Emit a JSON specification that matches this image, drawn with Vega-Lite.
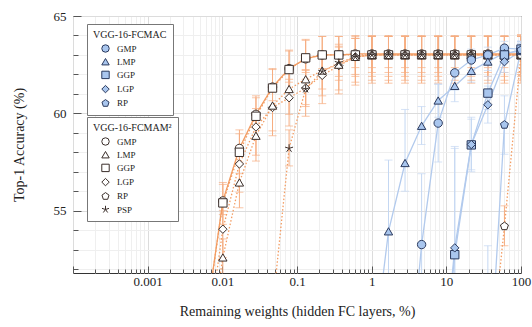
{
  "$schema": "https://vega.github.io/schema/vega-lite/v6.json",
  "width": 448,
  "height": 257,
  "autosize": {"type": "none"},
  "padding": {"left": 73, "top": 16, "right": 11, "bottom": 54},
  "background": "white",
  "config": {
    "font": "Liberation Serif",
    "view": {"stroke": "#333333", "strokeWidth": 1},
    "axis": {
      "labelFont": "Liberation Serif",
      "titleFont": "Liberation Serif",
      "labelFontSize": 13,
      "titleFontSize": 14,
      "titleFontWeight": "normal",
      "labelColor": "#222222",
      "titleColor": "#222222",
      "domain": false,
      "tickColor": "#555555",
      "labelOverlap": false,
      "labelFlush": false
    },
    "legend": {
      "titleFont": "Liberation Serif",
      "labelFont": "Liberation Serif",
      "titleFontSize": 10,
      "titleFontWeight": "normal",
      "labelFontSize": 9,
      "titleColor": "#222222",
      "labelColor": "#222222",
      "strokeColor": "#777777",
      "fillColor": "white",
      "padding": 6,
      "rowPadding": 1.2,
      "titlePadding": 4,
      "symbolOffset": 8,
      "labelOffset": 7,
      "symbolSize": 55,
      "symbolStrokeWidth": 1
    }
  },
  "datasets": {
    "d": [
      {"g": "FCMAM2", "m": "GMP", "x": 100, "y": 63.05, "lo": 62.35, "hi": 64.0},
      {"g": "FCMAM2", "m": "GMP", "x": 60, "y": 63.05, "lo": 62.35, "hi": 64.0},
      {"g": "FCMAM2", "m": "GMP", "x": 36, "y": 63.05, "lo": 62.35, "hi": 64.0},
      {"g": "FCMAM2", "m": "GMP", "x": 21.6, "y": 63.05, "lo": 62.35, "hi": 64.0},
      {"g": "FCMAM2", "m": "GMP", "x": 12.96, "y": 63.05, "lo": 62.35, "hi": 64.0},
      {"g": "FCMAM2", "m": "GMP", "x": 7.776, "y": 63.05, "lo": 62.35, "hi": 64.0},
      {"g": "FCMAM2", "m": "GMP", "x": 4.666, "y": 63.05, "lo": 62.35, "hi": 64.0},
      {"g": "FCMAM2", "m": "GMP", "x": 2.799, "y": 63.05, "lo": 62.35, "hi": 64.0},
      {"g": "FCMAM2", "m": "GMP", "x": 1.68, "y": 63.05, "lo": 62.35, "hi": 64.0},
      {"g": "FCMAM2", "m": "GMP", "x": 1.008, "y": 63.05, "lo": 62.35, "hi": 64.0},
      {"g": "FCMAM2", "m": "GMP", "x": 0.6047, "y": 63.05, "lo": 62.35, "hi": 64.0},
      {"g": "FCMAM2", "m": "GMP", "x": 0.3628, "y": 63.0, "lo": 62.3, "hi": 63.95},
      {"g": "FCMAM2", "m": "GMP", "x": 0.2177, "y": 63.0, "lo": 62.3, "hi": 63.95},
      {"g": "FCMAM2", "m": "GMP", "x": 0.1306, "y": 62.8, "lo": 62.1, "hi": 63.75},
      {"g": "FCMAM2", "m": "GMP", "x": 0.07836, "y": 62.3, "lo": 61.6, "hi": 63.25},
      {"g": "FCMAM2", "m": "GMP", "x": 0.04702, "y": 61.35, "lo": 60.65, "hi": 62.3},
      {"g": "FCMAM2", "m": "GMP", "x": 0.02821, "y": 59.95, "lo": 59.25, "hi": 60.9},
      {"g": "FCMAM2", "m": "GMP", "x": 0.01693, "y": 58.2, "lo": 57.5, "hi": 59.15},
      {"g": "FCMAM2", "m": "GMP", "x": 0.01016, "y": 55.5, "lo": 54.8, "hi": 56.45},
      {"g": "FCMAM2", "m": "GMP", "x": 0.006094, "y": 49.5, "lo": 48.8, "hi": 50.45},

      {"g": "FCMAM2", "m": "GGP", "x": 100, "y": 63.0, "lo": 61.9, "hi": 63.95},
      {"g": "FCMAM2", "m": "GGP", "x": 60, "y": 63.0, "lo": 61.9, "hi": 63.95},
      {"g": "FCMAM2", "m": "GGP", "x": 36, "y": 63.0, "lo": 61.9, "hi": 63.95},
      {"g": "FCMAM2", "m": "GGP", "x": 21.6, "y": 63.0, "lo": 61.9, "hi": 63.95},
      {"g": "FCMAM2", "m": "GGP", "x": 12.96, "y": 63.0, "lo": 61.9, "hi": 63.95},
      {"g": "FCMAM2", "m": "GGP", "x": 7.776, "y": 63.0, "lo": 61.9, "hi": 63.95},
      {"g": "FCMAM2", "m": "GGP", "x": 4.666, "y": 63.0, "lo": 61.9, "hi": 63.95},
      {"g": "FCMAM2", "m": "GGP", "x": 2.799, "y": 63.0, "lo": 61.9, "hi": 63.95},
      {"g": "FCMAM2", "m": "GGP", "x": 1.68, "y": 63.0, "lo": 61.9, "hi": 63.95},
      {"g": "FCMAM2", "m": "GGP", "x": 1.008, "y": 63.0, "lo": 61.9, "hi": 63.95},
      {"g": "FCMAM2", "m": "GGP", "x": 0.6047, "y": 63.0, "lo": 61.9, "hi": 63.95},
      {"g": "FCMAM2", "m": "GGP", "x": 0.3628, "y": 63.0, "lo": 61.9, "hi": 63.95},
      {"g": "FCMAM2", "m": "GGP", "x": 0.2177, "y": 63.0, "lo": 61.9, "hi": 63.95},
      {"g": "FCMAM2", "m": "GGP", "x": 0.1306, "y": 62.85, "lo": 61.75, "hi": 63.8},
      {"g": "FCMAM2", "m": "GGP", "x": 0.07836, "y": 62.25, "lo": 61.15, "hi": 63.2},
      {"g": "FCMAM2", "m": "GGP", "x": 0.04702, "y": 61.3, "lo": 60.2, "hi": 62.25},
      {"g": "FCMAM2", "m": "GGP", "x": 0.02821, "y": 59.85, "lo": 58.75, "hi": 60.8},
      {"g": "FCMAM2", "m": "GGP", "x": 0.01693, "y": 58.0, "lo": 56.9, "hi": 58.95},
      {"g": "FCMAM2", "m": "GGP", "x": 0.01016, "y": 55.4, "lo": 54.3, "hi": 56.35},
      {"g": "FCMAM2", "m": "GGP", "x": 0.006094, "y": 49.5, "lo": 48.4, "hi": 50.45},

      {"g": "FCMAM2", "m": "LGP", "x": 100, "y": 63.0, "lo": 61.55, "hi": 63.95},
      {"g": "FCMAM2", "m": "LGP", "x": 60, "y": 63.0, "lo": 61.55, "hi": 63.95},
      {"g": "FCMAM2", "m": "LGP", "x": 36, "y": 63.0, "lo": 61.55, "hi": 63.95},
      {"g": "FCMAM2", "m": "LGP", "x": 21.6, "y": 63.0, "lo": 61.55, "hi": 63.95},
      {"g": "FCMAM2", "m": "LGP", "x": 12.96, "y": 63.0, "lo": 61.55, "hi": 63.95},
      {"g": "FCMAM2", "m": "LGP", "x": 7.776, "y": 63.0, "lo": 61.55, "hi": 63.95},
      {"g": "FCMAM2", "m": "LGP", "x": 4.666, "y": 63.0, "lo": 61.55, "hi": 63.95},
      {"g": "FCMAM2", "m": "LGP", "x": 2.799, "y": 63.0, "lo": 61.55, "hi": 63.95},
      {"g": "FCMAM2", "m": "LGP", "x": 1.68, "y": 63.0, "lo": 61.55, "hi": 63.95},
      {"g": "FCMAM2", "m": "LGP", "x": 1.008, "y": 63.0, "lo": 61.55, "hi": 63.95},
      {"g": "FCMAM2", "m": "LGP", "x": 0.6047, "y": 62.9, "lo": 61.45, "hi": 63.85},
      {"g": "FCMAM2", "m": "LGP", "x": 0.3628, "y": 62.45, "lo": 61.0, "hi": 63.4},
      {"g": "FCMAM2", "m": "LGP", "x": 0.2177, "y": 61.95, "lo": 60.5, "hi": 62.9},
      {"g": "FCMAM2", "m": "LGP", "x": 0.1306, "y": 61.3, "lo": 59.85, "hi": 62.25},
      {"g": "FCMAM2", "m": "LGP", "x": 0.07836, "y": 60.8, "lo": 59.35, "hi": 61.75},
      {"g": "FCMAM2", "m": "LGP", "x": 0.04702, "y": 60.3, "lo": 58.85, "hi": 61.25},
      {"g": "FCMAM2", "m": "LGP", "x": 0.02821, "y": 59.3, "lo": 57.85, "hi": 60.25},
      {"g": "FCMAM2", "m": "LGP", "x": 0.01693, "y": 57.4, "lo": 55.95, "hi": 58.35},
      {"g": "FCMAM2", "m": "LGP", "x": 0.01016, "y": 54.05, "lo": 52.6, "hi": 55.0},
      {"g": "FCMAM2", "m": "LGP", "x": 0.006094, "y": 48.0, "lo": 46.55, "hi": 48.95},

      {"g": "FCMAM2", "m": "LMP", "x": 100, "y": 63.0, "lo": 61.7, "hi": 63.95},
      {"g": "FCMAM2", "m": "LMP", "x": 60, "y": 63.0, "lo": 61.7, "hi": 63.95},
      {"g": "FCMAM2", "m": "LMP", "x": 36, "y": 63.0, "lo": 61.7, "hi": 63.95},
      {"g": "FCMAM2", "m": "LMP", "x": 21.6, "y": 63.0, "lo": 61.7, "hi": 63.95},
      {"g": "FCMAM2", "m": "LMP", "x": 12.96, "y": 63.0, "lo": 61.7, "hi": 63.95},
      {"g": "FCMAM2", "m": "LMP", "x": 7.776, "y": 63.0, "lo": 61.7, "hi": 63.95},
      {"g": "FCMAM2", "m": "LMP", "x": 4.666, "y": 63.0, "lo": 61.7, "hi": 63.95},
      {"g": "FCMAM2", "m": "LMP", "x": 2.799, "y": 63.0, "lo": 61.7, "hi": 63.95},
      {"g": "FCMAM2", "m": "LMP", "x": 1.68, "y": 63.0, "lo": 61.7, "hi": 63.95},
      {"g": "FCMAM2", "m": "LMP", "x": 1.008, "y": 63.0, "lo": 61.7, "hi": 63.95},
      {"g": "FCMAM2", "m": "LMP", "x": 0.6047, "y": 62.9, "lo": 61.6, "hi": 63.85},
      {"g": "FCMAM2", "m": "LMP", "x": 0.3628, "y": 62.5, "lo": 61.2, "hi": 63.45},
      {"g": "FCMAM2", "m": "LMP", "x": 0.2177, "y": 62.2, "lo": 60.9, "hi": 63.15},
      {"g": "FCMAM2", "m": "LMP", "x": 0.1306, "y": 61.75, "lo": 60.45, "hi": 62.7},
      {"g": "FCMAM2", "m": "LMP", "x": 0.07836, "y": 61.25, "lo": 59.95, "hi": 62.2},
      {"g": "FCMAM2", "m": "LMP", "x": 0.04702, "y": 60.4, "lo": 59.1, "hi": 61.35},
      {"g": "FCMAM2", "m": "LMP", "x": 0.02821, "y": 58.85, "lo": 57.55, "hi": 59.8},
      {"g": "FCMAM2", "m": "LMP", "x": 0.01693, "y": 56.45, "lo": 55.15, "hi": 57.4},
      {"g": "FCMAM2", "m": "LMP", "x": 0.01016, "y": 52.6, "lo": 51.3, "hi": 53.55},
      {"g": "FCMAM2", "m": "LMP", "x": 0.006094, "y": 47.0, "lo": 45.7, "hi": 47.95},

      {"g": "FCMAM2", "m": "PSP", "x": 100, "y": 63.0, "lo": 62.1, "hi": 63.95},
      {"g": "FCMAM2", "m": "PSP", "x": 60, "y": 63.0, "lo": 62.1, "hi": 63.95},
      {"g": "FCMAM2", "m": "PSP", "x": 36, "y": 63.0, "lo": 62.1, "hi": 63.95},
      {"g": "FCMAM2", "m": "PSP", "x": 21.6, "y": 63.0, "lo": 62.1, "hi": 63.95},
      {"g": "FCMAM2", "m": "PSP", "x": 12.96, "y": 63.0, "lo": 62.1, "hi": 63.95},
      {"g": "FCMAM2", "m": "PSP", "x": 7.776, "y": 63.0, "lo": 62.1, "hi": 63.95},
      {"g": "FCMAM2", "m": "PSP", "x": 4.666, "y": 63.0, "lo": 62.1, "hi": 63.95},
      {"g": "FCMAM2", "m": "PSP", "x": 2.799, "y": 63.0, "lo": 62.1, "hi": 63.95},
      {"g": "FCMAM2", "m": "PSP", "x": 1.68, "y": 63.0, "lo": 62.1, "hi": 63.95},
      {"g": "FCMAM2", "m": "PSP", "x": 1.008, "y": 63.0, "lo": 62.1, "hi": 63.95},
      {"g": "FCMAM2", "m": "PSP", "x": 0.6047, "y": 62.9, "lo": 62.0, "hi": 63.85},
      {"g": "FCMAM2", "m": "PSP", "x": 0.3628, "y": 62.6, "lo": 61.7, "hi": 63.55},
      {"g": "FCMAM2", "m": "PSP", "x": 0.2177, "y": 62.15, "lo": 61.25, "hi": 63.1},
      {"g": "FCMAM2", "m": "PSP", "x": 0.1306, "y": 61.25, "lo": 60.35, "hi": 62.2},
      {"g": "FCMAM2", "m": "PSP", "x": 0.07836, "y": 58.2, "lo": 57.3, "hi": 59.15},
      {"g": "FCMAM2", "m": "PSP", "x": 0.04702, "y": 50.0, "lo": 49.1, "hi": 50.95},

      {"g": "FCMAM2", "m": "RP", "x": 100, "y": 63.0, "lo": 62.0, "hi": 64.05},
      {"g": "FCMAM2", "m": "RP", "x": 60, "y": 54.2, "lo": 53.2, "hi": 55.25},
      {"g": "FCMAM2", "m": "RP", "x": 36, "y": 46.0, "lo": 45.0, "hi": 47.05},

      {"g": "FCMAC", "m": "GMP", "x": 100, "y": 63.3, "lo": 62.9, "hi": 63.7},
      {"g": "FCMAC", "m": "GMP", "x": 60, "y": 63.35, "lo": 63.0, "hi": 63.7},
      {"g": "FCMAC", "m": "GMP", "x": 36, "y": 63.0, "lo": 62.6, "hi": 63.4},
      {"g": "FCMAC", "m": "GMP", "x": 21.6, "y": 62.74, "lo": 62.2, "hi": 63.3},
      {"g": "FCMAC", "m": "GMP", "x": 12.96, "y": 62.08, "lo": 61.2, "hi": 63.0},
      {"g": "FCMAC", "m": "GMP", "x": 7.776, "y": 59.5, "lo": 57.5, "hi": 61.5},
      {"g": "FCMAC", "m": "GMP", "x": 4.666, "y": 53.26, "lo": 49.6, "hi": 56.9},
      {"g": "FCMAC", "m": "GMP", "x": 2.799, "y": 44.0, "lo": 40.0, "hi": 48.0},

      {"g": "FCMAC", "m": "LMP", "x": 100, "y": 63.2, "lo": 62.8, "hi": 63.6},
      {"g": "FCMAC", "m": "LMP", "x": 60, "y": 63.1, "lo": 62.7, "hi": 63.5},
      {"g": "FCMAC", "m": "LMP", "x": 36, "y": 62.66, "lo": 62.2, "hi": 63.1},
      {"g": "FCMAC", "m": "LMP", "x": 21.6, "y": 62.18, "lo": 61.6, "hi": 62.8},
      {"g": "FCMAC", "m": "LMP", "x": 12.96, "y": 61.41, "lo": 60.6, "hi": 62.2},
      {"g": "FCMAC", "m": "LMP", "x": 7.776, "y": 60.66, "lo": 59.8, "hi": 61.5},
      {"g": "FCMAC", "m": "LMP", "x": 4.666, "y": 59.36, "lo": 58.4, "hi": 60.35},
      {"g": "FCMAC", "m": "LMP", "x": 2.799, "y": 57.45, "lo": 56.0, "hi": 60.2},
      {"g": "FCMAC", "m": "LMP", "x": 1.68, "y": 53.94, "lo": 50.2, "hi": 57.6},
      {"g": "FCMAC", "m": "LMP", "x": 1.008, "y": 47.0, "lo": 44.0, "hi": 50.0},

      {"g": "FCMAC", "m": "GGP", "x": 100, "y": 63.3, "lo": 62.9, "hi": 63.7},
      {"g": "FCMAC", "m": "GGP", "x": 60, "y": 63.0, "lo": 62.6, "hi": 63.4},
      {"g": "FCMAC", "m": "GGP", "x": 36, "y": 61.04, "lo": 60.2, "hi": 61.9},
      {"g": "FCMAC", "m": "GGP", "x": 21.6, "y": 58.38, "lo": 57.0, "hi": 59.8},
      {"g": "FCMAC", "m": "GGP", "x": 12.96, "y": 52.74, "lo": 47.0, "hi": 58.3},
      {"g": "FCMAC", "m": "GGP", "x": 7.776, "y": 44.0, "lo": 40.0, "hi": 48.0},

      {"g": "FCMAC", "m": "LGP", "x": 100, "y": 63.2, "lo": 62.8, "hi": 63.6},
      {"g": "FCMAC", "m": "LGP", "x": 60, "y": 62.65, "lo": 62.1, "hi": 63.2},
      {"g": "FCMAC", "m": "LGP", "x": 36, "y": 60.44, "lo": 59.5, "hi": 61.4},
      {"g": "FCMAC", "m": "LGP", "x": 21.6, "y": 58.4, "lo": 57.1, "hi": 59.7},
      {"g": "FCMAC", "m": "LGP", "x": 12.96, "y": 53.09, "lo": 48.0, "hi": 58.2},
      {"g": "FCMAC", "m": "LGP", "x": 7.776, "y": 44.0, "lo": 40.0, "hi": 48.0},

      {"g": "FCMAC", "m": "RP", "x": 100, "y": 63.25, "lo": 62.8, "hi": 63.7},
      {"g": "FCMAC", "m": "RP", "x": 60, "y": 59.41, "lo": 57.9, "hi": 60.9},
      {"g": "FCMAC", "m": "RP", "x": 36, "y": 45.0, "lo": 41.0, "hi": 53.2}
    ]
  },
  "data": {"name": "d"},
  "layer": [
    {
      "mark": {"type": "rule", "strokeWidth": 1, "clip": true},
      "encoding": {
        "x": {"field": "x", "type": "quantitative", "scale": {"type": "log", "domain": [0.0001, 100], "nice": false},
          "axis": {"title": "Remaining weights (hidden FC layers, %)", "values": [0.0001,0.0002,0.0003,0.0004,0.0005,0.0006,0.0007,0.0008,0.0009,0.001,0.002,0.003,0.004,0.005,0.006,0.007,0.008,0.009,0.01,0.02,0.03,0.04,0.05,0.06,0.07,0.08,0.09,0.1,0.2,0.3,0.4,0.5,0.6,0.7,0.8,0.9,1,2,3,4,5,6,7,8,9,10,20,30,40,50,60,70,80,90,100], "format": "~g", "labelOverlap": false, "labelExpr": "(abs(log(datum.value)/LN10 - round(log(datum.value)/LN10)) < 0.001 && datum.value > 0.0005) ? datum.label : ''", "grid": true, "gridColor": {"condition": {"test": "abs(log(datum.value)/LN10 - round(log(datum.value)/LN10)) < 0.001", "value": "#dcdcdc"}, "value": "#efefef"}, "tickSize": {"condition": {"test": "abs(log(datum.value)/LN10 - round(log(datum.value)/LN10)) < 0.001", "value": -7}, "value": -4}, "labelPadding": 9, "titlePadding": 13}},
        "y": {"field": "lo", "type": "quantitative", "scale": {"domain": [51.8, 65], "nice": false, "zero": false},
          "axis": {"title": "Top-1 Accuracy (%)", "values": [52,53,54,55,56,57,58,59,60,61,62,63,64,65], "labelOverlap": false, "labelExpr": "(datum.value == 55 || datum.value == 60 || datum.value == 65) ? datum.label : ''", "grid": true, "gridColor": {"condition": {"test": "datum.value == 55 || datum.value == 60 || datum.value == 65", "value": "#dcdcdc"}, "value": "#efefef"}, "tickSize": {"condition": {"test": "datum.value == 55 || datum.value == 60 || datum.value == 65", "value": -8}, "value": -5}, "labelPadding": 15, "titlePadding": 27}},
        "y2": {"field": "hi"},
        "color": {"field": "g", "type": "nominal", "scale": {"domain": ["FCMAC", "FCMAM2"], "range": ["#c4d7f2", "#f6ad80"]}, "legend": null}
      }
    },
    {
      "mark": {"type": "tick", "orient": "horizontal", "size": 8, "thickness": 1, "clip": true},
      "encoding": {
        "x": {"field": "x", "type": "quantitative",
          "axis": {"title": "Remaining weights (hidden FC layers, %)", "values": [0.0001,0.0002,0.0003,0.0004,0.0005,0.0006,0.0007,0.0008,0.0009,0.001,0.002,0.003,0.004,0.005,0.006,0.007,0.008,0.009,0.01,0.02,0.03,0.04,0.05,0.06,0.07,0.08,0.09,0.1,0.2,0.3,0.4,0.5,0.6,0.7,0.8,0.9,1,2,3,4,5,6,7,8,9,10,20,30,40,50,60,70,80,90,100], "format": "~g", "labelOverlap": false, "labelExpr": "(abs(log(datum.value)/LN10 - round(log(datum.value)/LN10)) < 0.001 && datum.value > 0.0005) ? datum.label : ''", "grid": true, "gridColor": {"condition": {"test": "abs(log(datum.value)/LN10 - round(log(datum.value)/LN10)) < 0.001", "value": "#dcdcdc"}, "value": "#efefef"}, "tickSize": {"condition": {"test": "abs(log(datum.value)/LN10 - round(log(datum.value)/LN10)) < 0.001", "value": -7}, "value": -4}, "labelPadding": 9, "titlePadding": 13}},
        "y": {"field": "lo", "type": "quantitative",
          "axis": {"title": "Top-1 Accuracy (%)", "values": [52,53,54,55,56,57,58,59,60,61,62,63,64,65], "labelOverlap": false, "labelExpr": "(datum.value == 55 || datum.value == 60 || datum.value == 65) ? datum.label : ''", "grid": true, "gridColor": {"condition": {"test": "datum.value == 55 || datum.value == 60 || datum.value == 65", "value": "#dcdcdc"}, "value": "#efefef"}, "tickSize": {"condition": {"test": "datum.value == 55 || datum.value == 60 || datum.value == 65", "value": -8}, "value": -5}, "labelPadding": 15, "titlePadding": 27}},
        "color": {"field": "g", "type": "nominal", "legend": null}
      }
    },
    {
      "mark": {"type": "tick", "orient": "horizontal", "size": 8, "thickness": 1, "clip": true},
      "encoding": {
        "x": {"field": "x", "type": "quantitative",
          "axis": {"title": "Remaining weights (hidden FC layers, %)", "values": [0.0001,0.0002,0.0003,0.0004,0.0005,0.0006,0.0007,0.0008,0.0009,0.001,0.002,0.003,0.004,0.005,0.006,0.007,0.008,0.009,0.01,0.02,0.03,0.04,0.05,0.06,0.07,0.08,0.09,0.1,0.2,0.3,0.4,0.5,0.6,0.7,0.8,0.9,1,2,3,4,5,6,7,8,9,10,20,30,40,50,60,70,80,90,100], "format": "~g", "labelOverlap": false, "labelExpr": "(abs(log(datum.value)/LN10 - round(log(datum.value)/LN10)) < 0.001 && datum.value > 0.0005) ? datum.label : ''", "grid": true, "gridColor": {"condition": {"test": "abs(log(datum.value)/LN10 - round(log(datum.value)/LN10)) < 0.001", "value": "#dcdcdc"}, "value": "#efefef"}, "tickSize": {"condition": {"test": "abs(log(datum.value)/LN10 - round(log(datum.value)/LN10)) < 0.001", "value": -7}, "value": -4}, "labelPadding": 9, "titlePadding": 13}},
        "y": {"field": "hi", "type": "quantitative",
          "axis": {"title": "Top-1 Accuracy (%)", "values": [52,53,54,55,56,57,58,59,60,61,62,63,64,65], "labelOverlap": false, "labelExpr": "(datum.value == 55 || datum.value == 60 || datum.value == 65) ? datum.label : ''", "grid": true, "gridColor": {"condition": {"test": "datum.value == 55 || datum.value == 60 || datum.value == 65", "value": "#dcdcdc"}, "value": "#efefef"}, "tickSize": {"condition": {"test": "datum.value == 55 || datum.value == 60 || datum.value == 65", "value": -8}, "value": -5}, "labelPadding": 15, "titlePadding": 27}},
        "color": {"field": "g", "type": "nominal", "legend": null}
      }
    },
    {
      "transform": [{"filter": "datum.g === 'FCMAC'"}],
      "mark": {"type": "line", "color": "#b2caed", "strokeWidth": 1.3, "clip": true},
      "encoding": {
        "x": {"field": "x", "type": "quantitative",
          "axis": {"title": "Remaining weights (hidden FC layers, %)", "values": [0.0001,0.0002,0.0003,0.0004,0.0005,0.0006,0.0007,0.0008,0.0009,0.001,0.002,0.003,0.004,0.005,0.006,0.007,0.008,0.009,0.01,0.02,0.03,0.04,0.05,0.06,0.07,0.08,0.09,0.1,0.2,0.3,0.4,0.5,0.6,0.7,0.8,0.9,1,2,3,4,5,6,7,8,9,10,20,30,40,50,60,70,80,90,100], "format": "~g", "labelOverlap": false, "labelExpr": "(abs(log(datum.value)/LN10 - round(log(datum.value)/LN10)) < 0.001 && datum.value > 0.0005) ? datum.label : ''", "grid": true, "gridColor": {"condition": {"test": "abs(log(datum.value)/LN10 - round(log(datum.value)/LN10)) < 0.001", "value": "#dcdcdc"}, "value": "#efefef"}, "tickSize": {"condition": {"test": "abs(log(datum.value)/LN10 - round(log(datum.value)/LN10)) < 0.001", "value": -7}, "value": -4}, "labelPadding": 9, "titlePadding": 13}},
        "y": {"field": "y", "type": "quantitative",
          "axis": {"title": "Top-1 Accuracy (%)", "values": [52,53,54,55,56,57,58,59,60,61,62,63,64,65], "labelOverlap": false, "labelExpr": "(datum.value == 55 || datum.value == 60 || datum.value == 65) ? datum.label : ''", "grid": true, "gridColor": {"condition": {"test": "datum.value == 55 || datum.value == 60 || datum.value == 65", "value": "#dcdcdc"}, "value": "#efefef"}, "tickSize": {"condition": {"test": "datum.value == 55 || datum.value == 60 || datum.value == 65", "value": -8}, "value": -5}, "labelPadding": 15, "titlePadding": 27}},
        "detail": {"field": "m", "type": "nominal"},
        "order": {"field": "x", "type": "quantitative"}
      }
    },
    {
      "transform": [{"filter": "datum.g === 'FCMAM2'"}],
      "mark": {"type": "line", "color": "#f39c62", "strokeWidth": 1.3, "clip": true},
      "encoding": {
        "x": {"field": "x", "type": "quantitative",
          "axis": {"title": "Remaining weights (hidden FC layers, %)", "values": [0.0001,0.0002,0.0003,0.0004,0.0005,0.0006,0.0007,0.0008,0.0009,0.001,0.002,0.003,0.004,0.005,0.006,0.007,0.008,0.009,0.01,0.02,0.03,0.04,0.05,0.06,0.07,0.08,0.09,0.1,0.2,0.3,0.4,0.5,0.6,0.7,0.8,0.9,1,2,3,4,5,6,7,8,9,10,20,30,40,50,60,70,80,90,100], "format": "~g", "labelOverlap": false, "labelExpr": "(abs(log(datum.value)/LN10 - round(log(datum.value)/LN10)) < 0.001 && datum.value > 0.0005) ? datum.label : ''", "grid": true, "gridColor": {"condition": {"test": "abs(log(datum.value)/LN10 - round(log(datum.value)/LN10)) < 0.001", "value": "#dcdcdc"}, "value": "#efefef"}, "tickSize": {"condition": {"test": "abs(log(datum.value)/LN10 - round(log(datum.value)/LN10)) < 0.001", "value": -7}, "value": -4}, "labelPadding": 9, "titlePadding": 13}},
        "y": {"field": "y", "type": "quantitative",
          "axis": {"title": "Top-1 Accuracy (%)", "values": [52,53,54,55,56,57,58,59,60,61,62,63,64,65], "labelOverlap": false, "labelExpr": "(datum.value == 55 || datum.value == 60 || datum.value == 65) ? datum.label : ''", "grid": true, "gridColor": {"condition": {"test": "datum.value == 55 || datum.value == 60 || datum.value == 65", "value": "#dcdcdc"}, "value": "#efefef"}, "tickSize": {"condition": {"test": "datum.value == 55 || datum.value == 60 || datum.value == 65", "value": -8}, "value": -5}, "labelPadding": 15, "titlePadding": 27}},
        "detail": {"field": "m", "type": "nominal"},
        "strokeDash": {"field": "m", "type": "nominal", "scale": {"domain": ["GMP", "LMP", "GGP", "LGP", "RP", "PSP"], "range": [[1, 0], [1.5, 2], [1.5, 2], [1.5, 2], [1.5, 2], [1.5, 2]]}, "legend": null},
        "order": {"field": "x", "type": "quantitative"}
      }
    },
    {
      "transform": [{"filter": "datum.g === 'FCMAM2'"}],
      "mark": {"type": "point", "filled": false, "color": "#3a2e2a", "fill": "white", "fillOpacity": 1, "strokeWidth": 1, "size": 70, "opacity": 1, "clip": true},
      "encoding": {
        "x": {"field": "x", "type": "quantitative",
          "axis": {"title": "Remaining weights (hidden FC layers, %)", "values": [0.0001,0.0002,0.0003,0.0004,0.0005,0.0006,0.0007,0.0008,0.0009,0.001,0.002,0.003,0.004,0.005,0.006,0.007,0.008,0.009,0.01,0.02,0.03,0.04,0.05,0.06,0.07,0.08,0.09,0.1,0.2,0.3,0.4,0.5,0.6,0.7,0.8,0.9,1,2,3,4,5,6,7,8,9,10,20,30,40,50,60,70,80,90,100], "format": "~g", "labelOverlap": false, "labelExpr": "(abs(log(datum.value)/LN10 - round(log(datum.value)/LN10)) < 0.001 && datum.value > 0.0005) ? datum.label : ''", "grid": true, "gridColor": {"condition": {"test": "abs(log(datum.value)/LN10 - round(log(datum.value)/LN10)) < 0.001", "value": "#dcdcdc"}, "value": "#efefef"}, "tickSize": {"condition": {"test": "abs(log(datum.value)/LN10 - round(log(datum.value)/LN10)) < 0.001", "value": -7}, "value": -4}, "labelPadding": 9, "titlePadding": 13}},
        "y": {"field": "y", "type": "quantitative",
          "axis": {"title": "Top-1 Accuracy (%)", "values": [52,53,54,55,56,57,58,59,60,61,62,63,64,65], "labelOverlap": false, "labelExpr": "(datum.value == 55 || datum.value == 60 || datum.value == 65) ? datum.label : ''", "grid": true, "gridColor": {"condition": {"test": "datum.value == 55 || datum.value == 60 || datum.value == 65", "value": "#dcdcdc"}, "value": "#efefef"}, "tickSize": {"condition": {"test": "datum.value == 55 || datum.value == 60 || datum.value == 65", "value": -8}, "value": -5}, "labelPadding": 15, "titlePadding": 27}},
        "shape": {
          "field": "m", "type": "nominal",
          "scale": {"domain": ["GMP", "LMP", "GGP", "LGP", "RP", "PSP"], "range": ["circle", "triangle-up", "square", "diamond", "M0,-1L0.951,-0.309L0.588,0.809L-0.588,0.809L-0.951,-0.309Z", "M0,-1L0,0M0.951,-0.309L0,0M0.588,0.809L0,0M-0.588,0.809L0,0M-0.951,-0.309L0,0"]},
          "legend": {
            "title": "VGG-16-FCMAM²", "orient": "none", "legendX": 14, "legendY": 101,
            "encode": {"symbols": {"update": {"fill": {"value": "white"}, "stroke": {"value": "#3a2e2a"}, "strokeWidth": {"value": 1}, "opacity": {"value": 1}}}}
          }
        }
      }
    },
    {
      "transform": [{"filter": "datum.g === 'FCMAC'"}],
      "mark": {"type": "point", "filled": true, "fill": "#a9c6ee", "stroke": "#2b3a5e", "strokeWidth": 1, "size": 70, "opacity": 1, "clip": true},
      "encoding": {
        "x": {"field": "x", "type": "quantitative",
          "axis": {"title": "Remaining weights (hidden FC layers, %)", "values": [0.0001,0.0002,0.0003,0.0004,0.0005,0.0006,0.0007,0.0008,0.0009,0.001,0.002,0.003,0.004,0.005,0.006,0.007,0.008,0.009,0.01,0.02,0.03,0.04,0.05,0.06,0.07,0.08,0.09,0.1,0.2,0.3,0.4,0.5,0.6,0.7,0.8,0.9,1,2,3,4,5,6,7,8,9,10,20,30,40,50,60,70,80,90,100], "format": "~g", "labelOverlap": false, "labelExpr": "(abs(log(datum.value)/LN10 - round(log(datum.value)/LN10)) < 0.001 && datum.value > 0.0005) ? datum.label : ''", "grid": true, "gridColor": {"condition": {"test": "abs(log(datum.value)/LN10 - round(log(datum.value)/LN10)) < 0.001", "value": "#dcdcdc"}, "value": "#efefef"}, "tickSize": {"condition": {"test": "abs(log(datum.value)/LN10 - round(log(datum.value)/LN10)) < 0.001", "value": -7}, "value": -4}, "labelPadding": 9, "titlePadding": 13}},
        "y": {"field": "y", "type": "quantitative",
          "axis": {"title": "Top-1 Accuracy (%)", "values": [52,53,54,55,56,57,58,59,60,61,62,63,64,65], "labelOverlap": false, "labelExpr": "(datum.value == 55 || datum.value == 60 || datum.value == 65) ? datum.label : ''", "grid": true, "gridColor": {"condition": {"test": "datum.value == 55 || datum.value == 60 || datum.value == 65", "value": "#dcdcdc"}, "value": "#efefef"}, "tickSize": {"condition": {"test": "datum.value == 55 || datum.value == 60 || datum.value == 65", "value": -8}, "value": -5}, "labelPadding": 15, "titlePadding": 27}},
        "shape": {
          "field": "m", "type": "nominal",
          "scale": {"domain": ["GMP", "LMP", "GGP", "LGP", "RP"], "range": ["circle", "triangle-up", "square", "diamond", "M0,-1L0.951,-0.309L0.588,0.809L-0.588,0.809L-0.951,-0.309Z"]},
          "legend": {
            "title": "VGG-16-FCMAC", "orient": "none", "legendX": 14, "legendY": 8,
            "encode": {"symbols": {"update": {"fill": {"value": "#a9c6ee"}, "stroke": {"value": "#2b3a5e"}, "strokeWidth": {"value": 1}, "opacity": {"value": 1}}}}
          }
        }
      }
    }
  ],
  "resolve": {"scale": {"shape": "independent"}}
}
